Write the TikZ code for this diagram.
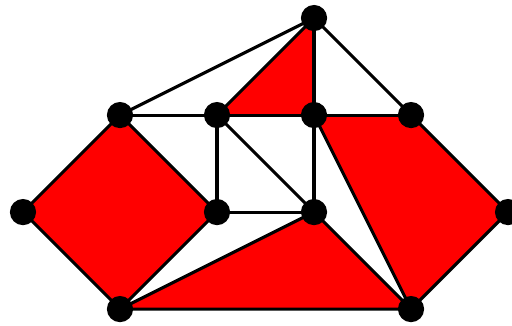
\documentclass[tikz,border=0pt]{standalone}
\usepackage{tikz}
\usetikzlibrary{positioning}

\begin{document}
\begin{tikzpicture}[
    vertex/.style={circle, fill=black, draw=none, minimum size=0.27cm, inner sep=0pt},
    face/.style={fill=red, draw=none},
    edge/.style={draw=black, line width=0.9pt}
]
\useasboundingbox (-0.237,-0.165) rectangle (5.041,3.186);

% ── Vertices ──
\coordinate (t) at (3,3);
\coordinate (a) at (1,2);
\coordinate (b) at (2,2);
\coordinate (c) at (3,2);
\coordinate (d) at (4,2);
\coordinate (e) at (0,1);
\coordinate (f) at (2,1);
\coordinate (g) at (3,1);
\coordinate (h) at (5,1);
\coordinate (i) at (1,0);
\coordinate (j) at (4,0);

% ── Red faces ──
\fill[face] (e) -- (a) -- (f) -- (i) -- cycle;
\fill[face] (t) -- (b) -- (c) -- cycle;
\fill[face] (c) -- (d) -- (h) -- (j) -- cycle;
\fill[face] (i) -- (g) -- (j) -- cycle;

% ── Edges ──
\draw[edge] (t) -- (a);
\draw[edge] (t) -- (b);
\draw[edge] (t) -- (c);
\draw[edge] (t) -- (d);
\draw[edge] (a) -- (b) -- (c) -- (d);
\draw[edge] (a) -- (e) -- (i) -- (f) -- (a);
\draw[edge] (b) -- (f) -- (g);
\draw[edge] (b) -- (g);
\draw[edge] (c) -- (g);
\draw[edge] (c) -- (j);
\draw[edge] (g) -- (j);
\draw[edge] (i) -- (g);
\draw[edge] (d) -- (h) -- (j) -- (i);

% ── Vertex dots ──
\foreach \v in {t,a,b,c,d,e,f,g,h,i,j}
  \node[vertex] (n\v) at (\v) {};

\end{tikzpicture}
\end{document}
